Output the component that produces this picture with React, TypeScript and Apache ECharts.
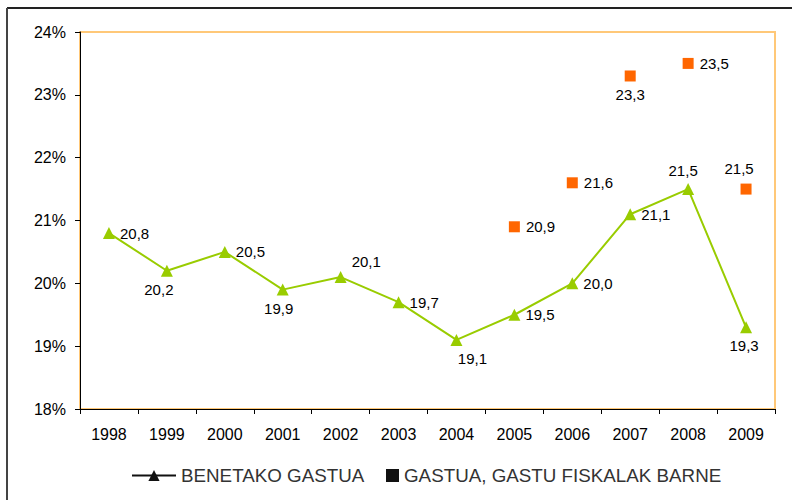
import React, { useEffect, useRef } from "react";
import * as echarts from "echarts";

const years = ["1998", "1999", "2000", "2001", "2002", "2003", "2004", "2005", "2006", "2007", "2008", "2009"];
const realSpending = [20.8, 20.2, 20.5, 19.9, 20.1, 19.7, 19.1, 19.5, 20.0, 21.1, 21.5, 19.3];
const spendingWithTax = [null, null, null, null, null, null, null, 20.9, 21.6, 23.3, 23.5, 21.5];
const seriesNames = ["BENETAKO GASTUA", "GASTUA, GASTU FISKALAK BARNE"];

// label placement (style only)
const lineLabelPos = ["right", "bottom", "right", "bottom", "right", "right", "bottom", "right", "right", "right", "top", "bottom"];
const lineLabelOffset = [[0, 0], [-8, 0], [0, 0], [-4, 0], [0, -16], [0, 0], [16, 0], [0, 0], [0, 0], [0, 0], [-5, 0], [-2, 0]];
const sqLabelPos = ["right", "right", "right", "right", "right", "right", "right", "right", "right", "bottom", "right", "top"];
const sqLabelOffset = [[0, 0], [0, 0], [0, 0], [0, 0], [0, 0], [0, 0], [0, 0], [0, 0], [0, 0], [0, 0], [0, 0], [-7, -2]];

const fmt = (v: number) => v.toFixed(1).replace(".", ",");
const FONT = "Liberation Sans, Arial, sans-serif";

export default function App() {
  const ref = useRef<HTMLDivElement>(null);
  useEffect(() => {
    if (!ref.current) return;
    const chart = echarts.init(ref.current, null, { renderer: "svg" });
    const lineData = realSpending.map((v, i) => ({
      value: v,
      label: { position: lineLabelPos[i], offset: lineLabelOffset[i] },
    }));
    const sqData = spendingWithTax.map((v, i) =>
      v == null ? null : { value: v, label: { position: sqLabelPos[i], offset: sqLabelOffset[i] } }
    );
    const legendText = { fontSize: 18.8, color: "#333", fontFamily: FONT };
    chart.setOption({
      animation: false,
      textStyle: { fontFamily: FONT },
      grid: {
        left: 80,
        right: 17,
        top: 32,
        bottom: 91,
        show: true,
        borderColor: "#FFC878",
        borderWidth: 2,
        backgroundColor: "#fff",
      },
      graphic: [
        { type: "line", shape: { x1: 7, y1: 8, x2: 792, y2: 8 }, style: { stroke: "#222", lineWidth: 2 } },
        { type: "line", shape: { x1: 7, y1: 8, x2: 7, y2: 500 }, style: { stroke: "#444", lineWidth: 2 } },
      ],
      legend: [
        {
          left: 131,
          top: 466,
          itemGap: 8,
          padding: 0,
          textStyle: legendText,
          itemWidth: 44,
          itemHeight: 14,
          data: [
            { name: seriesNames[0], itemStyle: { color: "#111" }, lineStyle: { color: "#111", width: 2 } },
          ],
        },
        {
          left: 386,
          top: 466,
          padding: 0,
          textStyle: legendText,
          itemWidth: 13,
          itemHeight: 13,
          itemGap: 5,
          data: [{ name: seriesNames[1], icon: "rect", itemStyle: { color: "#111" } }],
        },
      ],
      xAxis: {
        type: "category",
        data: years,
        boundaryGap: true,
        axisLine: { show: true, lineStyle: { color: "#000", width: 1 } },
        axisTick: { show: true, length: 5, lineStyle: { color: "#000" } },
        axisLabel: { color: "#000", fontSize: 16, margin: 17, fontFamily: FONT },
        splitLine: { show: false },
      },
      yAxis: {
        type: "value",
        min: 18,
        max: 24,
        interval: 1,
        axisLine: { show: true, lineStyle: { color: "#000", width: 1 } },
        axisTick: { show: true, length: 5, lineStyle: { color: "#000" } },
        axisLabel: { color: "#000", fontSize: 16, margin: 14, formatter: (v: number) => v + "%", fontFamily: FONT },
        splitLine: { show: false },
      },
      series: [
        {
          name: seriesNames[0],
          type: "line",
          data: lineData,
          symbol: "triangle",
          symbolSize: 12,
          itemStyle: { color: "#99CC00" },
          lineStyle: { color: "#99CC00", width: 2 },
          label: {
            show: true,
            color: "#000",
            fontSize: 15,
            distance: 5,
            fontFamily: FONT,
            formatter: (p: any) => fmt(p.value),
          },
          z: 3,
        },
        {
          name: seriesNames[1],
          type: "scatter",
          data: sqData,
          symbol: "rect",
          symbolSize: 11,
          itemStyle: { color: "#FF6600", opacity: 1 },
          label: {
            show: true,
            color: "#000",
            fontSize: 15,
            distance: 6,
            fontFamily: FONT,
            formatter: (p: any) => fmt(p.value),
          },
          z: 4,
        },
      ],
    });
    return () => chart.dispose();
  }, []);
  return (
    <div
      ref={ref}
      style={{ position: "fixed", left: 0, top: 0, width: 792, height: 500, background: "#fff" }}
    />
  );
}
